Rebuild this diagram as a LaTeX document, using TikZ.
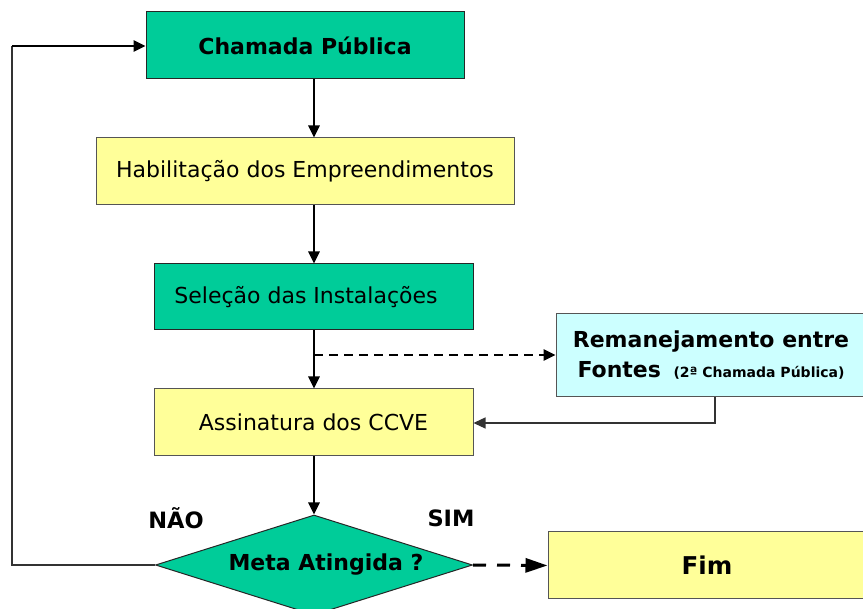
\documentclass[tikz,border=0pt]{standalone}
\usepackage{fontspec}
\setmainfont{DejaVu Sans}
\usetikzlibrary{shapes.geometric,arrows.meta}
\definecolor{cgreen}{HTML}{00CC99}
\definecolor{cyellow}{HTML}{FFFF99}
\definecolor{ccyan}{HTML}{CCFFFF}
\definecolor{cborder}{HTML}{555555}
\begin{document}
\begin{tikzpicture}[x=1pt,y=-1pt,
  stepbox/.style={draw, line width=1pt, inner sep=0pt, anchor=center},
  greenbox/.style={stepbox, fill=cgreen, draw=black!85},
  yellowbox/.style={stepbox, fill=cyellow, draw=cborder},
  flow/.style={line width=2.6pt, -{Triangle[length=12pt,width=11pt]}},
  thinflow/.style={line width=1.3pt, draw=black!80, -{Triangle[length=12pt,width=11pt]}},
  dflow/.style={line width=2.6pt, dash pattern=on 9pt off 6pt, -{Triangle[length=12pt,width=11pt]}},
  lbl/.style={font=\fontsize{22.5}{26}\selectfont\bfseries}
]
\useasboundingbox (0,0) rectangle (863,609);
\clip (0,0) rectangle (863,609);

\node[greenbox, minimum width=318pt, minimum height=67pt, font=\fontsize{22}{26}\selectfont\bfseries] (cham) at (305,45.5) {Chamada Pública};
\node[yellowbox, minimum width=418pt, minimum height=67pt, font=\fontsize{22}{26}\selectfont] (hab) at (305,171.5) {Habilitação dos Empreendimentos};
\node[greenbox, minimum width=319pt, minimum height=66pt, font=\fontsize{22}{26}\selectfont] (sel) at (313.5,297) {\hspace*{-15pt}Seleção das Instalações};
\node[yellowbox, minimum width=319pt, minimum height=67pt, font=\fontsize{22}{26}\selectfont] (ass) at (313.5,422.5) {Assinatura dos CCVE};
\node[stepbox, fill=ccyan, draw=cborder, minimum width=310pt, minimum height=83pt, align=center, font=\fontsize{22}{30}\selectfont\bfseries] (rem) at (711,355.5) {Remanejamento entre\\Fontes {\fontsize{14}{16}\selectfont\bfseries\ (2ª Chamada Pública)}};
\node[diamond, draw=black!85, line width=1pt, fill=cgreen, inner sep=0pt, aspect=3.2, minimum width=317pt, minimum height=100pt, font=\fontsize{22}{26}\selectfont\bfseries] (meta) at (314,565) {\raisebox{-3pt}{\hspace*{24pt}Meta Atingida ?}};
\node[yellowbox, minimum width=318pt, minimum height=67pt, font=\fontsize{24.5}{28}\selectfont\bfseries] (fim) at (707,565.5) {Fim};

\node[lbl] (nao) at (176,518) {NÃO};
\node[lbl] (sim) at (451,518) {SIM};

\coordinate (bl) at (12,565);
\coordinate (tl) at (12,46);
\coordinate (split) at (314,355);
\coordinate (rdown) at (715,423);

\draw[flow] (cham.south -| 314,0) -- (hab.north -| 314,0);
\draw[flow] (hab.south -| 314,0) -- (sel.north -| 314,0);
\draw[flow] (sel.south -| 314,0) -- (ass.north -| 314,0);
\draw[dflow] (split) -- (rem.west |- split);
\draw[thinflow] (rem.south -| rdown) -- (rdown) -- (ass.east |- rdown);
\draw[flow] (ass.south -| 314,0) -- (meta.north);
\draw[line width=1.3pt, draw=black!80] (meta.west) -- (bl) -- (tl);
\draw[flow] (tl) -- (cham.west |- tl);
\draw[line width=3pt, dash pattern=on 13pt off 11pt, -{Triangle[length=22pt,width=14pt]}] (meta.east) -- (fim.west);
\end{tikzpicture}
\end{document}
